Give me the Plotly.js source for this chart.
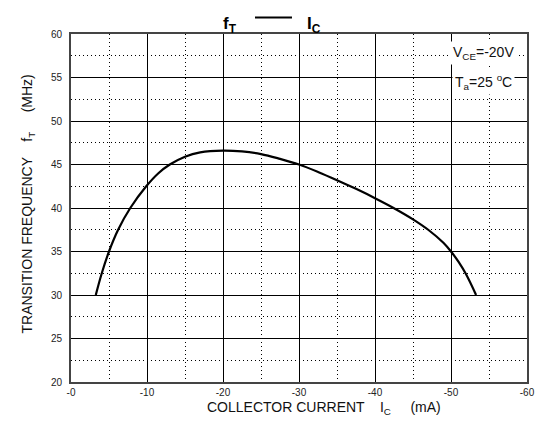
<!DOCTYPE html>
<html>
<head>
<meta charset="utf-8">
<script src="https://cdn.plot.ly/plotly-3.0.1.min.js"></script>
<style>html,body{margin:0;padding:0;background:#fff;}#chart{width:535px;height:430px;}</style>
</head>
<body>
<div id="chart"></div>
<script>
// Collector current Ic (mA) and transition frequency fT (MHz)
var ic = [-3.26, -4.05, -5.0, -6.2, -7.8, -9.9, -11.5, -13.0, -15.0, -17.0, -20, -22.5, -25, -27.5, -30, -32.5, -35, -37.5, -40, -42.5, -45, -47, -49, -50, -51, -52, -53.3];
var ft = [30, 32.5, 35, 37.5, 40, 42.5, 44.0, 45.0, 45.9, 46.4, 46.6, 46.5, 46.2, 45.65, 45.0, 44.15, 43.2, 42.2, 41.13, 39.98, 38.7, 37.5, 36.0, 35.0, 33.8, 32.35, 30];

var xTicks = [0, -10, -20, -30, -40, -50, -60];
var xTickText = ["-0", "-10", "-20", "-30", "-40", "-50", "-60"];
var yTicks = [20, 25, 30, 35, 40, 45, 50, 55, 60];

var font = "Liberation Sans, Arial, sans-serif";

var trace = {
  x: ic, y: ft, type: 'scatter', mode: 'lines',
  line: {color: '#000', width: 2.2, shape: 'spline', smoothing: 1, simplify: false},
  hoverinfo: 'skip', showlegend: false
};

var layout = {
  width: 535, height: 430,
  margin: {l: 71, r: 8, t: 34, b: 48},
  paper_bgcolor: '#fff', plot_bgcolor: '#fff',
  font: {family: font, color: '#222', size: 10},
  xaxis: {
    range: [0, -60], tickvals: xTicks, ticktext: xTickText,
    showgrid: true, gridcolor: '#000', gridwidth: 1,
    showline: true, linecolor: '#444', linewidth: 2, mirror: true,
    ticks: '', zeroline: false, fixedrange: true,
    tickfont: {family: font, size: 10, color: '#222'},
    minor: {dtick: 5, tick0: 0, showgrid: true, gridcolor: '#000', gridwidth: 1, griddash: '1px,3px', ticks: ''}
  },
  yaxis: {
    range: [20, 60], tickvals: yTicks,
    showgrid: true, gridcolor: '#000', gridwidth: 1,
    showline: true, linecolor: '#444', linewidth: 2, mirror: true,
    ticks: '', zeroline: false, fixedrange: true, ticklabelstandoff: 5,
    tickfont: {family: font, size: 10, color: '#222'},
    minor: {dtick: 2.5, tick0: 0, showgrid: true, gridcolor: '#000', gridwidth: 1, griddash: '1px,3px', ticks: ''}
  },
  shapes: [
    {type: 'line', xref: 'paper', yref: 'paper', x0: 0.4035, x1: 0.4846, y0: 1.0475, y1: 1.0475,
     line: {color: '#000', width: 2}}
  ],
  annotations: [
    {xref: 'paper', yref: 'paper', x: 0.3487, y: 1, yshift: 22, showarrow: false,
     text: '<b>f<sub>T</sub></b>', font: {family: font, size: 17, color: '#000'}},
    {xref: 'paper', yref: 'paper', x: 0.5329, y: 1, yshift: 22, showarrow: false,
     text: '<b>I<sub>C</sub></b>', font: {family: font, size: 17, color: '#000'}},
    {xref: 'paper', yref: 'paper', x: 0.977, y: 0.981, xanchor: 'right', showarrow: false,
     text: 'V<sub>CE</sub>=-20V', bgcolor: '#fff', borderpad: 2,
     font: {family: font, size: 14, color: '#111'}},
    {xref: 'paper', yref: 'paper', x: 0.974, y: 0.898, xanchor: 'right', showarrow: false,
     text: 'T<sub>a</sub>=25 <sup>o</sup>C', bgcolor: '#fff', borderpad: 2,
     font: {family: font, size: 14, color: '#111'}},
    {xref: 'paper', yref: 'paper', x: 0.2939, y: 0, yshift: -37, xanchor: 'left', showarrow: false,
     text: 'COLLECTOR CURRENT    I<sub>C</sub>     (mA)',
     font: {family: font, size: 14, color: '#111'}},
    {xref: 'paper', yref: 'paper', x: 0, y: 0.51, xshift: -54, showarrow: false, textangle: -90,
     text: 'TRANSITION FREQUENCY    f<sub>T</sub>     (MHz)',
     font: {family: font, size: 14, color: '#111'}}
  ]
};

Plotly.newPlot('chart', [trace], layout, {displayModeBar: false, staticPlot: true});
</script>
</body>
</html>
